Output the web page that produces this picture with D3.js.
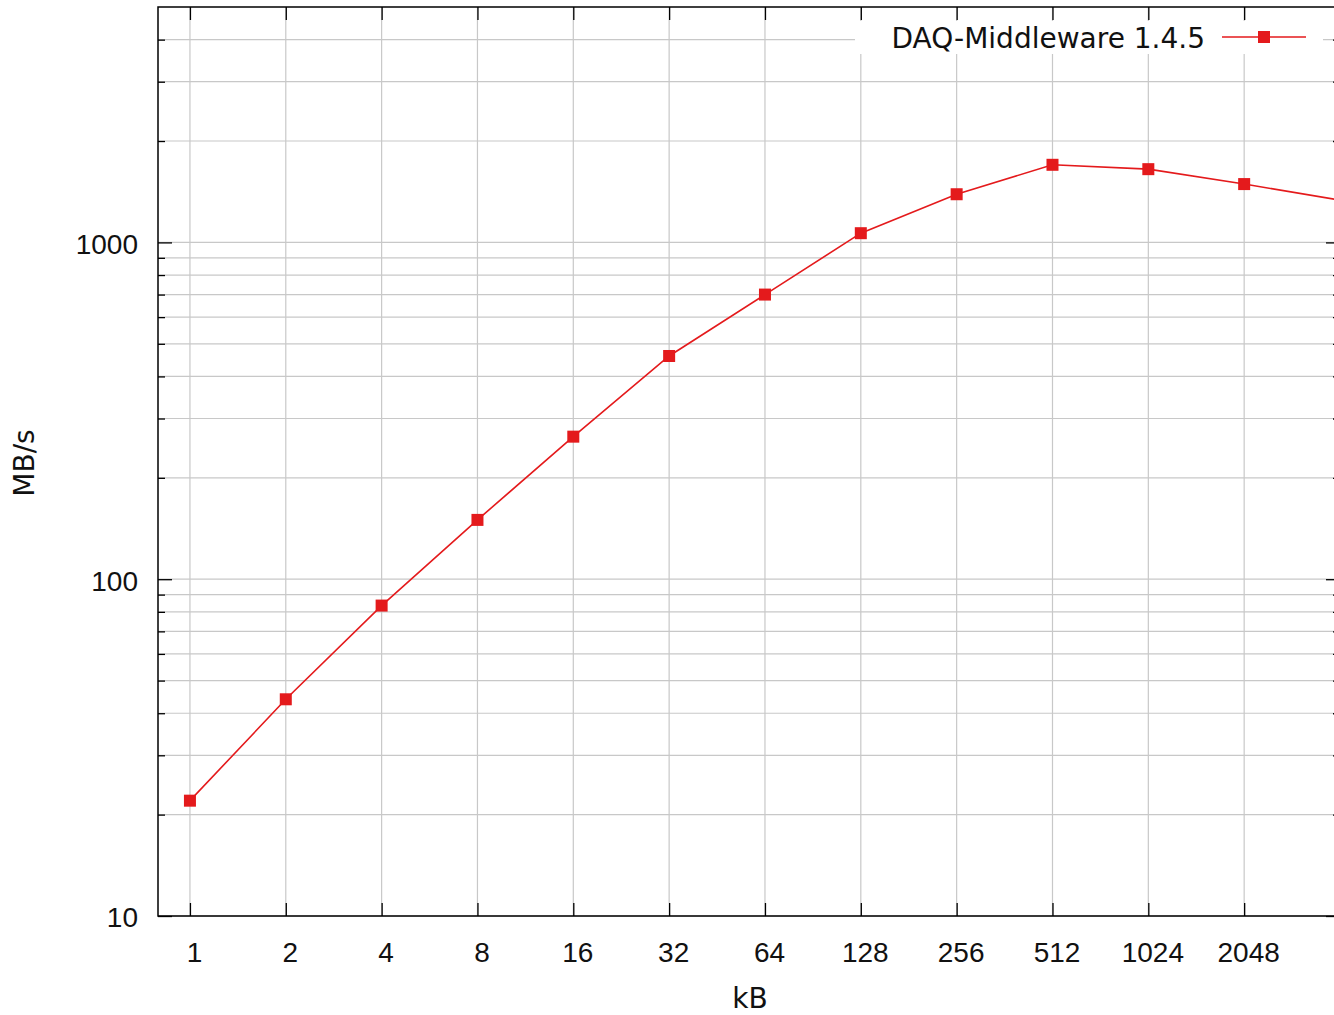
<!DOCTYPE html>
<html>
<head>
<meta charset="utf-8">
<script src="https://cdn.jsdelivr.net/npm/d3@7"></script>
<style>
  body { margin: 0; background: #fff; overflow: hidden; }
  svg { display: block; font-family: "DejaVu Sans", sans-serif; }
  .grid line { stroke: #c8c8c8; stroke-width: 1.2; }
  .tick line { stroke: #000; stroke-width: 1.3; }
  .tick text { font-size: 28px; fill: #111; }
</style>
</head>
<body>
<script>
// 数据：数据块大小 (kB) 与吞吐量 (MB/s)
var sizes = [1, 2, 4, 8, 16, 32, 64, 128, 256, 512, 1024, 2048, 4096];
var throughput = [22.0, 44.0, 83.5, 150, 265, 460, 700, 1065, 1390, 1700, 1650, 1490, 1335];
var xLabels = [1, 2, 4, 8, 16, 32, 64, 128, 256, 512, 1024, 2048];
var seriesName = "DAQ-Middleware 1.4.5";
var yMajor = [10, 100, 1000];
var yMinor = [20, 30, 40, 50, 60, 70, 80, 90,
  200, 300, 400, 500, 600, 700, 800, 900,
  2000, 3000, 4000];

const width = 1334;
const height = 1015;
const margin = { left: 158, top: 7, right: 1340, bottom: 916 };
const lineColor = "#e41a1c";

var svg = d3.select("body").append("svg")
  .attr("width", width)
  .attr("height", height);

var xScale = d3.scaleLog().base(2)
  .domain([Math.pow(2, -1 / 3), 4096])
  .range([margin.left, margin.right]);

var yScale = d3.scaleLog()
  .domain([10, 5000])
  .range([margin.bottom, margin.top]);

// 网格线
var grid = svg.append("g").attr("class", "grid");
grid.selectAll(".gx").data(sizes).enter().append("line")
  .attr("x1", d => xScale(d)).attr("x2", d => xScale(d))
  .attr("y1", margin.top).attr("y2", margin.bottom);
grid.selectAll(".gy").data(yMajor.concat(yMinor)).enter().append("line")
  .attr("x1", margin.left).attr("x2", margin.right)
  .attr("y1", d => yScale(d)).attr("y2", d => yScale(d));

// 图例背景遮住网格
svg.append("rect")
  .attr("x", 855).attr("y", 21)
  .attr("width", 468).attr("height", 33)
  .attr("fill", "#fff");

// 刻度（向内）
const bottomAxis = d3.axisBottom(xScale)
  .tickValues(xLabels).tickFormat(d3.format("d"))
  .tickSizeInner(-13).tickSizeOuter(0).tickPadding(26);
svg.append("g")
  .attr("transform", `translate(0,${margin.bottom})`)
  .call(bottomAxis)
  .call(g => g.select(".domain").remove())
  .selectAll("text").attr("x", 4);

const topAxis = d3.axisTop(xScale)
  .tickValues(xLabels).tickFormat("")
  .tickSizeInner(-13).tickSizeOuter(0);
svg.append("g")
  .attr("transform", `translate(0,${margin.top})`)
  .call(topAxis)
  .call(g => g.select(".domain").remove());

const leftAxis = d3.axisLeft(yScale)
  .tickValues(yMajor).tickFormat(d3.format("d"))
  .tickSizeInner(-14).tickSizeOuter(0).tickPadding(20);
svg.append("g")
  .attr("transform", `translate(${margin.left},0)`)
  .call(leftAxis)
  .call(g => g.select(".domain").remove())
  .selectAll("text").attr("dy", "0.39em");

svg.append("g")
  .attr("transform", `translate(${margin.left},0)`)
  .call(d3.axisLeft(yScale).tickValues(yMinor).tickFormat("").tickSizeInner(-7).tickSizeOuter(0))
  .call(g => g.select(".domain").remove());

svg.append("g")
  .attr("transform", `translate(${margin.right},0)`)
  .call(d3.axisRight(yScale).tickValues(yMajor).tickFormat("").tickSizeInner(-14).tickSizeOuter(0))
  .call(g => g.select(".domain").remove());

svg.append("g")
  .attr("transform", `translate(${margin.right},0)`)
  .call(d3.axisRight(yScale).tickValues(yMinor).tickFormat("").tickSizeInner(-7).tickSizeOuter(0))
  .call(g => g.select(".domain").remove());

// 边框
svg.append("rect")
  .attr("x", margin.left).attr("y", margin.top)
  .attr("width", margin.right - margin.left)
  .attr("height", margin.bottom - margin.top)
  .attr("fill", "none")
  .attr("stroke", "#000")
  .attr("stroke-width", 1.5);

// 数据线与点
var data = sizes.map((s, i) => ({ size: s, value: throughput[i] }));

svg.append("clipPath").attr("id", "plotClip")
  .append("rect")
  .attr("x", margin.left).attr("y", margin.top)
  .attr("width", margin.right - margin.left)
  .attr("height", margin.bottom - margin.top);

var line = d3.line()
  .x(d => xScale(d.size))
  .y(d => yScale(d.value));

svg.append("path")
  .datum(data)
  .attr("clip-path", "url(#plotClip)")
  .attr("fill", "none")
  .attr("stroke", lineColor)
  .attr("stroke-width", 1.6)
  .attr("d", line);

svg.selectAll(".pt").data(data).enter().append("rect")
  .attr("class", "pt")
  .attr("x", d => xScale(d.size) - 6)
  .attr("y", d => yScale(d.value) - 6)
  .attr("width", 12).attr("height", 12)
  .attr("fill", lineColor);

// 图例
svg.append("text")
  .attr("x", 1205).attr("y", 48)
  .attr("text-anchor", "end")
  .attr("font-size", 28)
  .attr("fill", "#111")
  .text(seriesName);
svg.append("line")
  .attr("x1", 1222).attr("x2", 1306)
  .attr("y1", 37).attr("y2", 37)
  .attr("stroke", lineColor).attr("stroke-width", 1.6);
svg.append("rect")
  .attr("x", 1258).attr("y", 31)
  .attr("width", 12).attr("height", 12)
  .attr("fill", lineColor);

// 轴标题
svg.append("text")
  .attr("x", 750).attr("y", 1008)
  .attr("text-anchor", "middle")
  .attr("font-size", 28)
  .attr("fill", "#111")
  .text("kB");
svg.append("text")
  .attr("transform", "translate(34,463) rotate(-90)")
  .attr("text-anchor", "middle")
  .attr("font-size", 28)
  .attr("fill", "#111")
  .text("MB/s");
</script>
</body>
</html>
